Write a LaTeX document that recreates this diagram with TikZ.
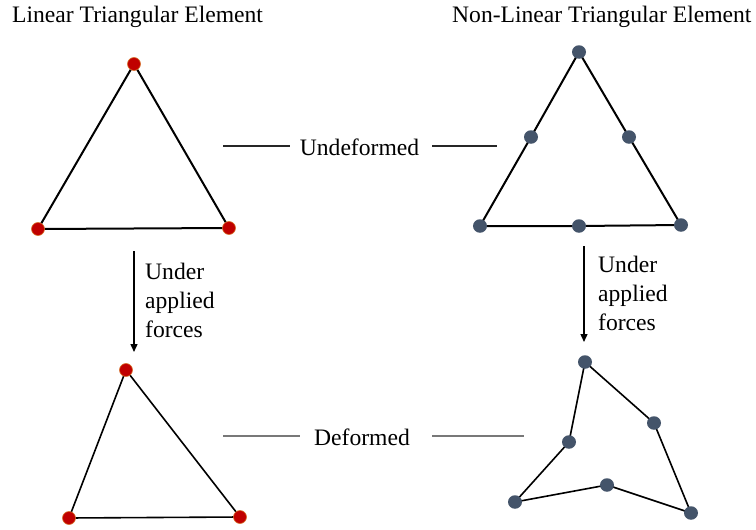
\documentclass[tikz,border=0pt]{standalone}
\usepackage{fontspec}
\setmainfont{Liberation Serif}
\usetikzlibrary{arrows.meta,shapes.geometric}
\definecolor{dotred}{RGB}{192,0,0}
\definecolor{dotrim}{RGB}{214,110,40}
\definecolor{dotslate}{RGB}{68,84,106}
\definecolor{sepgray}{RGB}{120,120,120}
\tikzset{
  lbl/.style={font=\fontsize{23.6}{29}\selectfont, inner sep=0pt},
  rdot/.style={circle, fill=dotred, draw=dotrim, line width=0.6pt, minimum size=13pt, inner sep=0pt},
  sdot/.style={ellipse, fill=dotslate, minimum width=14pt, minimum height=13.5pt, inner sep=0pt},
  edgeA/.style={line width=2pt, black},
  edgeB/.style={line width=1.6pt, black},
  sepline/.style={line width=1.3pt},
  forcearrow/.style={line width=1.4pt, -{Triangle[width=7pt,length=8pt]}},
}
\begin{document}
\begin{tikzpicture}[x=1pt,y=-1pt]
\useasboundingbox (0,0) rectangle (756,530);
% titles
\node[lbl, anchor=base west] (t1) at (12,23) {Linear Triangular Element};
\node[lbl, anchor=base west] (t2) at (452,23) {Non-Linear Triangular Element};
% coordinates
\coordinate (a1) at (134,64);
\coordinate (a2) at (38,229);
\coordinate (a3) at (229,228);
\coordinate (b1) at (579,52);
\coordinate (b2) at (531,137);
\coordinate (b3) at (629,137);
\coordinate (b4) at (480,226);
\coordinate (b5) at (579,226);
\coordinate (b6) at (681,225);
\coordinate (c1) at (126,370);
\coordinate (c2) at (69,518);
\coordinate (c3) at (240,517);
\coordinate (d1) at (585,362);
\coordinate (d2) at (654,423);
\coordinate (d3) at (569,442);
\coordinate (d4) at (515,502);
\coordinate (d5) at (607,485);
\coordinate (d6) at (691,513);
% edges
\draw[edgeA] (a1) -- (a2) -- (a3) -- cycle;
\draw[edgeA] (b1) -- (b2) -- (b4) -- (b5) -- (b6) -- (b3) -- cycle;
\draw[edgeB] (c1) -- (c2) -- (c3) -- cycle;
\draw[edgeB] (d1) -- (d2) -- (d6) -- (d5) -- (d4) -- (d3) -- cycle;
% dots
\foreach \p in {a1,a2,a3,c1,c2,c3} \node[rdot] (n\p) at (\p) {};
\foreach \p in {b1,b2,b3,b4,b5,b6,d1,d2,d3,d4,d5,d6} \node[sdot] (n\p) at (\p) {};
% state labels
\node[lbl] (und) at (359.5,147) {Undeformed};
\node[lbl] (def) at (362,437) {Deformed};
\coordinate (u1) at (223,146); \coordinate (u2) at (290,146);
\coordinate (u3) at (432,146); \coordinate (u4) at (497,146);
\coordinate (v1) at (223,436); \coordinate (v2) at (300,436);
\coordinate (v3) at (432,436); \coordinate (v4) at (524,436);
\draw[sepline, black!85] (u1) -- (u2);
\draw[sepline, black!85] (u3) -- (u4);
\draw[sepline, sepgray] (v1) -- (v2);
\draw[sepline, sepgray] (v3) -- (v4);
% arrows
\coordinate (f1s) at (134,251); \coordinate (f1e) at (134,352);
\coordinate (f2s) at (584,246); \coordinate (f2e) at (584,342);
\draw[forcearrow] (f1s) -- (f1e);
\draw[forcearrow] (f2s) -- (f2e);
\node[lbl, anchor=base west, align=left] (fl1) at (145,337) {Under\\applied\\forces};
\node[lbl, anchor=base west, align=left] (fl2) at (598,330) {Under\\applied\\forces};
\end{tikzpicture}
\end{document}
